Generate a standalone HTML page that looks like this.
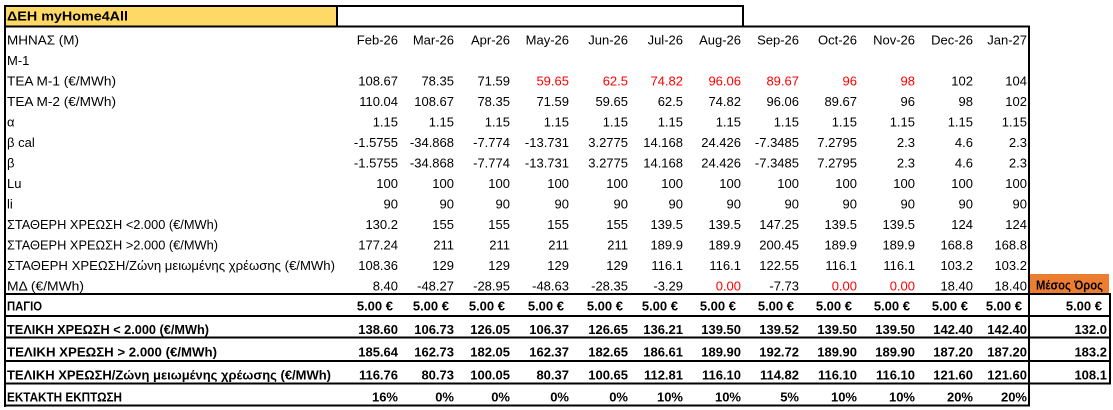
<!DOCTYPE html>
<html><head><meta charset="utf-8">
<style>
html,body{margin:0;padding:0;background:#fff;width:1113px;height:410px;overflow:hidden}
svg{display:block}
text{font-family:"Liberation Sans","DejaVu Sans",sans-serif;font-size:13px;fill:#000}
.b text,text.b{font-weight:bold}
.r{fill:#ff0000}
.n text{text-anchor:end}
</style></head><body>
<svg width="1113" height="410" viewBox="0 0 1113 410" xmlns="http://www.w3.org/2000/svg">
<rect x="0" y="0" width="1113" height="410" fill="#fff"/>
<!-- title -->
<rect x="5" y="6" width="332" height="20" fill="#FFD966"/>
<rect x="4" y="5" width="740" height="2" fill="#000"/>
<rect x="336" y="5" width="2" height="22" fill="#000"/>
<rect x="742" y="5" width="2" height="22" fill="#000"/>
<text x="7" y="20.7" class="b" font-weight="bold" textLength="121" lengthAdjust="spacingAndGlyphs">ΔΕΗ myHome4All</text>
<!-- table borders -->
<rect x="4" y="25.5" width="1026" height="2" fill="#000"/>
<rect x="4" y="5" width="2" height="402" fill="#000"/>
<rect x="1028" y="25.5" width="2" height="381" fill="#000"/>
<rect x="4" y="293" width="1026" height="2" fill="#000"/>
<rect x="4" y="315" width="1026" height="2" fill="#000"/>
<rect x="4" y="336.5" width="1026" height="2" fill="#000"/>
<rect x="4" y="360" width="1026" height="2" fill="#000"/>
<rect x="4" y="382.5" width="1026" height="2" fill="#000"/>
<rect x="4" y="404.5" width="1026" height="2" fill="#000"/>
<!-- average box -->
<rect x="1030" y="274" width="79" height="19" fill="#ED7D31"/>
<rect x="1028" y="293" width="83" height="2" fill="#000"/>
<rect x="1028" y="315" width="83" height="2" fill="#000"/>
<rect x="1028" y="336.5" width="83" height="2" fill="#000"/>
<rect x="1028" y="360" width="83" height="2" fill="#000"/>
<rect x="1028" y="382.5" width="83" height="2" fill="#000"/>
<rect x="1109" y="293" width="2" height="91.5" fill="#000"/>
<text x="1069.5" y="289.7" font-weight="bold" font-size="12" text-anchor="middle" textLength="67" lengthAdjust="spacingAndGlyphs">Μέσος Όρος</text>

<!-- labels -->
<g>
<text x="7" y="44.3" textLength="72" lengthAdjust="spacingAndGlyphs">ΜΗΝΑΣ (Μ)</text>
<text x="7" y="64.8">Μ-1</text>
<text x="7" y="85.3" textLength="109" lengthAdjust="spacingAndGlyphs">ΤΕΑ Μ-1 (€/MWh)</text>
<text x="7" y="105.8" textLength="109" lengthAdjust="spacingAndGlyphs">ΤΕΑ Μ-2 (€/MWh)</text>
<text x="7" y="126.3">α</text>
<text x="7" y="146.8">β cal</text>
<text x="7" y="167.3">β</text>
<text x="7" y="187.8">Lu</text>
<text x="7" y="208.3">li</text>
<text x="7" y="228.8" textLength="211" lengthAdjust="spacingAndGlyphs">ΣΤΑΘΕΡΗ ΧΡΕΩΣΗ &lt;2.000 (€/MWh)</text>
<text x="7" y="249.3" textLength="211" lengthAdjust="spacingAndGlyphs">ΣΤΑΘΕΡΗ ΧΡΕΩΣΗ &gt;2.000 (€/MWh)</text>
<text x="7" y="269.8" textLength="328" lengthAdjust="spacingAndGlyphs">ΣΤΑΘΕΡΗ ΧΡΕΩΣΗ/Ζώνη μειωμένης χρέωσης (€/MWh)</text>
<text x="7" y="290.3" textLength="77" lengthAdjust="spacingAndGlyphs">ΜΔ (€/MWh)</text>
</g>
<g class="b">
<text x="7" y="310.7" textLength="35" lengthAdjust="spacingAndGlyphs">ΠΑΓΙΟ</text>
<text x="7" y="334" textLength="202" lengthAdjust="spacingAndGlyphs">ΤΕΛΙΚΗ ΧΡΕΩΣΗ &lt; 2.000 (€/MWh)</text>
<text x="7" y="356.7" textLength="210" lengthAdjust="spacingAndGlyphs">ΤΕΛΙΚΗ ΧΡΕΩΣΗ &gt; 2.000  (€/MWh)</text>
<text x="7" y="379.3" textLength="324" lengthAdjust="spacingAndGlyphs">ΤΕΛΙΚΗ ΧΡΕΩΣΗ/Ζώνη μειωμένης χρέωσης (€/MWh)</text>
<text x="7" y="401.7" textLength="115" lengthAdjust="spacingAndGlyphs">ΕΚΤΑΚΤΗ ΕΚΠΤΩΣΗ</text>
</g>

<!-- months -->
<g class="n">
<text x="398" y="44.3">Feb-26</text><text x="454" y="44.3">Mar-26</text><text x="510" y="44.3">Apr-26</text><text x="569" y="44.3">May-26</text><text x="628" y="44.3">Jun-26</text><text x="683" y="44.3">Jul-26</text><text x="741" y="44.3">Aug-26</text><text x="799" y="44.3">Sep-26</text><text x="857" y="44.3">Oct-26</text><text x="915" y="44.3">Nov-26</text><text x="973" y="44.3">Dec-26</text><text x="1027" y="44.3">Jan-27</text>
</g>
<!-- TEA M-1 -->
<g class="n">
<text x="398" y="85.3">108.67</text><text x="454" y="85.3">78.35</text><text x="510" y="85.3">71.59</text><text x="569" y="85.3" class="r">59.65</text><text x="628" y="85.3" class="r">62.5</text><text x="683" y="85.3" class="r">74.82</text><text x="741" y="85.3" class="r">96.06</text><text x="799" y="85.3" class="r">89.67</text><text x="857" y="85.3" class="r">96</text><text x="915" y="85.3" class="r">98</text><text x="973" y="85.3">102</text><text x="1027" y="85.3">104</text>
</g>
<!-- TEA M-2 -->
<g class="n">
<text x="398" y="105.8">110.04</text><text x="454" y="105.8">108.67</text><text x="510" y="105.8">78.35</text><text x="569" y="105.8">71.59</text><text x="628" y="105.8">59.65</text><text x="683" y="105.8">62.5</text><text x="741" y="105.8">74.82</text><text x="799" y="105.8">96.06</text><text x="857" y="105.8">89.67</text><text x="915" y="105.8">96</text><text x="973" y="105.8">98</text><text x="1027" y="105.8">102</text>
</g>
<!-- alpha -->
<g class="n">
<text x="398" y="126.3">1.15</text><text x="454" y="126.3">1.15</text><text x="510" y="126.3">1.15</text><text x="569" y="126.3">1.15</text><text x="628" y="126.3">1.15</text><text x="683" y="126.3">1.15</text><text x="741" y="126.3">1.15</text><text x="799" y="126.3">1.15</text><text x="857" y="126.3">1.15</text><text x="915" y="126.3">1.15</text><text x="973" y="126.3">1.15</text><text x="1027" y="126.3">1.15</text>
</g>
<!-- beta cal -->
<g class="n">
<text x="398" y="146.8">-1.5755</text><text x="454" y="146.8">-34.868</text><text x="510" y="146.8">-7.774</text><text x="569" y="146.8">-13.731</text><text x="628" y="146.8">3.2775</text><text x="683" y="146.8">14.168</text><text x="741" y="146.8">24.426</text><text x="799" y="146.8">-7.3485</text><text x="857" y="146.8">7.2795</text><text x="915" y="146.8">2.3</text><text x="973" y="146.8">4.6</text><text x="1027" y="146.8">2.3</text>
</g>
<!-- beta -->
<g class="n">
<text x="398" y="167.3">-1.5755</text><text x="454" y="167.3">-34.868</text><text x="510" y="167.3">-7.774</text><text x="569" y="167.3">-13.731</text><text x="628" y="167.3">3.2775</text><text x="683" y="167.3">14.168</text><text x="741" y="167.3">24.426</text><text x="799" y="167.3">-7.3485</text><text x="857" y="167.3">7.2795</text><text x="915" y="167.3">2.3</text><text x="973" y="167.3">4.6</text><text x="1027" y="167.3">2.3</text>
</g>
<!-- Lu -->
<g class="n">
<text x="398" y="187.8">100</text><text x="454" y="187.8">100</text><text x="510" y="187.8">100</text><text x="569" y="187.8">100</text><text x="628" y="187.8">100</text><text x="683" y="187.8">100</text><text x="741" y="187.8">100</text><text x="799" y="187.8">100</text><text x="857" y="187.8">100</text><text x="915" y="187.8">100</text><text x="973" y="187.8">100</text><text x="1027" y="187.8">100</text>
</g>
<!-- li -->
<g class="n">
<text x="398" y="208.3">90</text><text x="454" y="208.3">90</text><text x="510" y="208.3">90</text><text x="569" y="208.3">90</text><text x="628" y="208.3">90</text><text x="683" y="208.3">90</text><text x="741" y="208.3">90</text><text x="799" y="208.3">90</text><text x="857" y="208.3">90</text><text x="915" y="208.3">90</text><text x="973" y="208.3">90</text><text x="1027" y="208.3">90</text>
</g>
<!-- stath <2000 -->
<g class="n">
<text x="398" y="228.8">130.2</text><text x="454" y="228.8">155</text><text x="510" y="228.8">155</text><text x="569" y="228.8">155</text><text x="628" y="228.8">155</text><text x="683" y="228.8">139.5</text><text x="741" y="228.8">139.5</text><text x="799" y="228.8">147.25</text><text x="857" y="228.8">139.5</text><text x="915" y="228.8">139.5</text><text x="973" y="228.8">124</text><text x="1027" y="228.8">124</text>
</g>
<!-- stath >2000 -->
<g class="n">
<text x="398" y="249.3">177.24</text><text x="454" y="249.3">211</text><text x="510" y="249.3">211</text><text x="569" y="249.3">211</text><text x="628" y="249.3">211</text><text x="683" y="249.3">189.9</text><text x="741" y="249.3">189.9</text><text x="799" y="249.3">200.45</text><text x="857" y="249.3">189.9</text><text x="915" y="249.3">189.9</text><text x="973" y="249.3">168.8</text><text x="1027" y="249.3">168.8</text>
</g>
<!-- stath zone -->
<g class="n">
<text x="398" y="269.8">108.36</text><text x="454" y="269.8">129</text><text x="510" y="269.8">129</text><text x="569" y="269.8">129</text><text x="628" y="269.8">129</text><text x="683" y="269.8">116.1</text><text x="741" y="269.8">116.1</text><text x="799" y="269.8">122.55</text><text x="857" y="269.8">116.1</text><text x="915" y="269.8">116.1</text><text x="973" y="269.8">103.2</text><text x="1027" y="269.8">103.2</text>
</g>
<!-- MD -->
<g class="n">
<text x="398" y="290.3">8.40</text><text x="454" y="290.3">-48.27</text><text x="510" y="290.3">-28.95</text><text x="569" y="290.3">-48.63</text><text x="628" y="290.3">-28.35</text><text x="683" y="290.3">-3.29</text><text x="741" y="290.3" class="r">0.00</text><text x="799" y="290.3">-7.73</text><text x="857" y="290.3" class="r">0.00</text><text x="915" y="290.3" class="r">0.00</text><text x="973" y="290.3">18.40</text><text x="1027" y="290.3">18.40</text>
</g>
<!-- PAGIO -->
<g class="n b">
<text x="393" y="310.7">5.00 €</text><text x="449" y="310.7">5.00 €</text><text x="505" y="310.7">5.00 €</text><text x="564" y="310.7">5.00 €</text><text x="623" y="310.7">5.00 €</text><text x="678" y="310.7">5.00 €</text><text x="736" y="310.7">5.00 €</text><text x="794" y="310.7">5.00 €</text><text x="852" y="310.7">5.00 €</text><text x="910" y="310.7">5.00 €</text><text x="968" y="310.7">5.00 €</text><text x="1022" y="310.7">5.00 €</text><text x="1102" y="310.7">5.00 €</text>
</g>
<!-- final <2000 -->
<g class="n b">
<text x="398" y="334">138.60</text><text x="454" y="334">106.73</text><text x="510" y="334">126.05</text><text x="569" y="334">106.37</text><text x="628" y="334">126.65</text><text x="683" y="334">136.21</text><text x="741" y="334">139.50</text><text x="799" y="334">139.52</text><text x="857" y="334">139.50</text><text x="915" y="334">139.50</text><text x="973" y="334">142.40</text><text x="1027" y="334">142.40</text><text x="1107" y="334">132.0</text>
</g>
<!-- final >2000 -->
<g class="n b">
<text x="398" y="356.7">185.64</text><text x="454" y="356.7">162.73</text><text x="510" y="356.7">182.05</text><text x="569" y="356.7">162.37</text><text x="628" y="356.7">182.65</text><text x="683" y="356.7">186.61</text><text x="741" y="356.7">189.90</text><text x="799" y="356.7">192.72</text><text x="857" y="356.7">189.90</text><text x="915" y="356.7">189.90</text><text x="973" y="356.7">187.20</text><text x="1027" y="356.7">187.20</text><text x="1107" y="356.7">183.2</text>
</g>
<!-- final zone -->
<g class="n b">
<text x="398" y="379.3">116.76</text><text x="454" y="379.3">80.73</text><text x="510" y="379.3">100.05</text><text x="569" y="379.3">80.37</text><text x="628" y="379.3">100.65</text><text x="683" y="379.3">112.81</text><text x="741" y="379.3">116.10</text><text x="799" y="379.3">114.82</text><text x="857" y="379.3">116.10</text><text x="915" y="379.3">116.10</text><text x="973" y="379.3">121.60</text><text x="1027" y="379.3">121.60</text><text x="1107" y="379.3">108.1</text>
</g>
<!-- discount -->
<g class="n b">
<text x="398" y="401.7">16%</text><text x="454" y="401.7">0%</text><text x="510" y="401.7">0%</text><text x="569" y="401.7">0%</text><text x="628" y="401.7">0%</text><text x="683" y="401.7">10%</text><text x="741" y="401.7">10%</text><text x="799" y="401.7">5%</text><text x="857" y="401.7">10%</text><text x="915" y="401.7">10%</text><text x="973" y="401.7">20%</text><text x="1027" y="401.7">20%</text>
</g>
</svg>
</body></html>
